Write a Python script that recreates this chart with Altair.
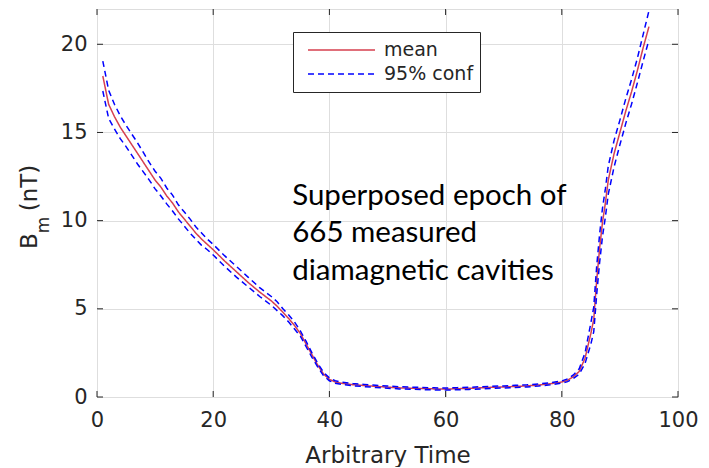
import altair as alt
import pandas as pd

# ---- data ----
x_vals = [1, 2, 3, 4, 5, 6, 7, 8, 9, 10, 11, 12, 13, 14, 15, 16, 17, 18, 19, 20,
          22, 24, 26, 28, 30,
          31, 32, 33, 34, 35, 36, 37, 38, 39, 40, 41, 42,
          44, 46, 48, 50, 52, 54, 56, 58, 60, 62, 64, 66, 68, 70, 72, 74, 76, 78, 80,
          81, 82, 83, 84, 85,
          85.5, 86, 86.5, 87, 87.5, 88,
          89, 90, 91, 92, 93, 94, 95]
mean_vals = [18.2, 16.6, 15.9, 15.3, 14.8, 14.3, 13.8, 13.3, 12.8, 12.3, 11.9, 11.4, 11.0, 10.5, 10.1, 9.7, 9.3, 8.95, 8.65, 8.35,
             7.7, 7.1, 6.5, 5.95, 5.45,
             5.15, 4.8, 4.45, 4.05, 3.6, 3.0, 2.4, 1.8, 1.3, 1.0, 0.85, 0.78,
             0.7, 0.65, 0.6, 0.56, 0.52, 0.5, 0.48, 0.46, 0.45, 0.47, 0.49, 0.52, 0.55, 0.57, 0.6, 0.63, 0.68, 0.75, 0.85,
             0.95, 1.15, 1.45, 2.2, 3.6,
             4.4, 6.6, 8.4, 9.9, 11.0, 12.3,
             13.8, 15.0, 16.2, 17.3, 18.5, 19.8, 21.0]
upper_vals = [19.05, 17.4, 16.6, 15.95, 15.4, 14.9, 14.4, 13.85, 13.3, 12.8, 12.4, 11.85, 11.45, 10.9, 10.5, 10.1, 9.65, 9.3, 8.95, 8.65,
              8.0, 7.4, 6.8, 6.2, 5.7,
              5.4, 5.0, 4.65, 4.25, 3.75, 3.15, 2.5, 1.9, 1.4, 1.08, 0.92, 0.84,
              0.76, 0.71, 0.66, 0.62, 0.58, 0.56, 0.54, 0.52, 0.51, 0.53, 0.55, 0.58, 0.61, 0.63, 0.66, 0.69, 0.74, 0.81, 0.91,
              1.03, 1.25, 1.6, 2.5, 4.2,
              5.1, 7.4, 9.2, 10.7, 11.8, 13.1,
              14.55, 15.7, 16.9, 18.0, 19.2, 20.55, 21.9]
lower_vals = [17.35, 15.8, 15.2, 14.65, 14.2, 13.7, 13.2, 12.75, 12.3, 11.8, 11.4, 10.95, 10.55, 10.1, 9.7, 9.3, 8.95, 8.6, 8.35, 8.05,
              7.4, 6.8, 6.25, 5.7, 5.2,
              4.9, 4.6, 4.25, 3.85, 3.45, 2.85, 2.25, 1.7, 1.2, 0.92, 0.78, 0.72,
              0.64, 0.59, 0.54, 0.5, 0.46, 0.44, 0.42, 0.4, 0.39, 0.41, 0.43, 0.46, 0.49, 0.51, 0.54, 0.57, 0.62, 0.69, 0.79,
              0.87, 1.05, 1.3, 1.9, 3.0,
              3.7, 5.8, 7.6, 9.1, 10.2, 11.5,
              13.05, 14.3, 15.5, 16.6, 17.8, 19.05, 20.25]

series_names = ["mean", "95% conf"]
x_ticks = [0, 20, 40, 60, 80, 100]
y_ticks = [0, 5, 10, 15, 20]
annotation_lines = ["Superposed epoch of", "665 measured", "diamagnetic cavities"]

# ---- tables ----
mean_df = pd.DataFrame({"x": x_vals, "y": mean_vals, "series": "mean", "band": "mean"})
conf_df = pd.concat([
    pd.DataFrame({"x": x_vals, "y": upper_vals, "series": "95% conf", "band": "upper"}),
    pd.DataFrame({"x": x_vals, "y": lower_vals, "series": "95% conf", "band": "lower"}),
])
xt_df = pd.DataFrame({"v": x_ticks})
yt_df = pd.DataFrame({"v": y_ticks})
ann_df = pd.DataFrame({"t": ["\n".join(annotation_lines)]})

W, H = 581, 388
AX = "#262626"
FONT = "DejaVu Sans"

xs = alt.Scale(domain=[0, 100], nice=False, zero=False)
ys = alt.Scale(domain=[0, 22], nice=False, zero=False)

legend = alt.Legend(
    title=None, orient="none", legendX=196, legendY=23,
    strokeColor=AX, fillColor="white", padding=6,
    symbolType="stroke", symbolSize=4489, symbolStrokeWidth=1.5,
    symbolOffset=8, labelOffset=8, clipHeight=24, rowPadding=0,
    labelFontSize=19, labelFont=FONT, labelColor=AX,
)
color = alt.Color("series:N", scale=alt.Scale(domain=series_names, range=["#d6404f", "#0000ff"]), legend=legend)
dash = alt.StrokeDash("series:N", scale=alt.Scale(domain=series_names, range=[[1, 0], [6, 4]]), legend=legend)

xaxis = alt.Axis(values=x_ticks, grid=True, gridColor="#dedede", tickSize=0, domain=False,
                 labelFlush=False, labelOverlap=False,
                 labelFontSize=21, labelFont=FONT, labelColor=AX, labelPadding=12,
                 title="Arbitrary Time", titleFontSize=23, titleFont=FONT, titleColor=AX,
                 titleFontWeight="normal", titlePadding=14)
yaxis = alt.Axis(values=y_ticks, grid=True, gridColor="#dedede", tickSize=0, domain=False,
                 labelFlush=False, labelOverlap=False,
                 labelFontSize=21, labelFont=FONT, labelColor=AX, labelPadding=10, title=None)

mean_line = alt.Chart(mean_df).mark_line(strokeWidth=1.5).encode(
    x=alt.X("x:Q", scale=xs, axis=xaxis),
    y=alt.Y("y:Q", scale=ys, axis=yaxis),
    color=color, strokeDash=dash, detail="band:N",
)
conf_line = alt.Chart(conf_df).mark_line(strokeWidth=1.5).encode(
    x=alt.X("x:Q", scale=xs),
    y=alt.Y("y:Q", scale=ys),
    color=color, strokeDash=dash, detail="band:N",
)

# inside ticks on all four sides
xt_bottom = alt.Chart(xt_df).mark_rule(color=AX, strokeWidth=1).encode(
    x=alt.X("v:Q", scale=xs), y=alt.value(H), y2=alt.value(H - 6))
xt_top = alt.Chart(xt_df).mark_rule(color=AX, strokeWidth=1).encode(
    x=alt.X("v:Q", scale=xs), y=alt.value(0), y2=alt.value(6))
yt_left = alt.Chart(yt_df).mark_rule(color=AX, strokeWidth=1).encode(
    y=alt.Y("v:Q", scale=ys), x=alt.value(0), x2=alt.value(6))
yt_right = alt.Chart(yt_df).mark_rule(color=AX, strokeWidth=1).encode(
    y=alt.Y("v:Q", scale=ys), x=alt.value(W), x2=alt.value(W - 6))

ann = alt.Chart(ann_df).mark_text(
    font="Lato", fontSize=29.5, color="black", align="left", baseline="alphabetic",
    lineBreak="\n", lineHeight=37.5,
).encode(x=alt.X(datum=33.6, scale=xs), y=alt.Y(datum=10.9, scale=ys), text="t:N")

# y-axis title  B_m (nT), rotated
yt_B = alt.Chart(pd.DataFrame({"t": ["B"]})).mark_text(
    font=FONT, fontSize=23, color=AX, angle=270, align="center", baseline="middle").encode(
    x=alt.value(-67), y=alt.value(232), text="t:N")
yt_m = alt.Chart(pd.DataFrame({"t": ["m"]})).mark_text(
    font=FONT, fontSize=17, color=AX, angle=270, align="center", baseline="middle").encode(
    x=alt.value(-53), y=alt.value(216), text="t:N")
yt_u = alt.Chart(pd.DataFrame({"t": ["(nT)"]})).mark_text(
    font=FONT, fontSize=23, color=AX, angle=270, align="center", baseline="middle").encode(
    x=alt.value(-67), y=alt.value(179), text="t:N")

chart = alt.layer(
    mean_line, conf_line, xt_bottom, xt_top, yt_left, yt_right, ann, yt_B, yt_m, yt_u
).properties(
    width=W, height=H,
    autosize=alt.AutoSizeParams(type="none"),
    padding={"left": 89, "top": 1, "right": 20, "bottom": 70},
).configure_view(
    stroke=AX, strokeWidth=1
).configure(background="white")

chart.save("out.html", embed_options={"renderer": "svg", "actions": False})
